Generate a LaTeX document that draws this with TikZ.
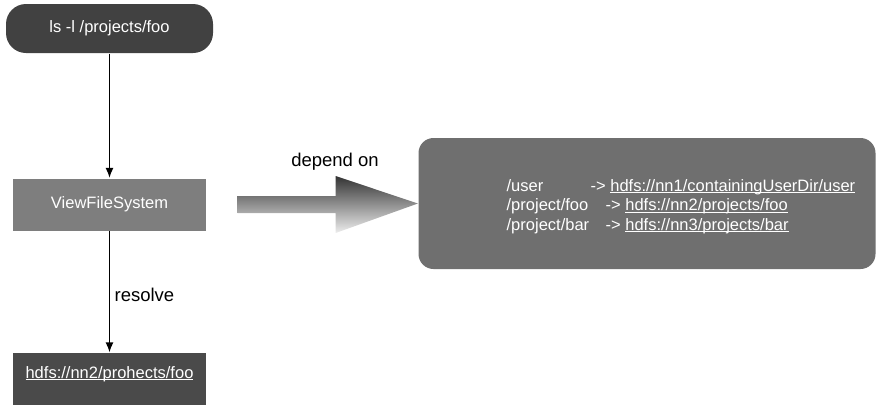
\documentclass[tikz,border=0pt]{standalone}
\usepackage{fontspec}
\setmainfont{Liberation Sans}
\usetikzlibrary{arrows.meta,calc}

\definecolor{boxdark}{HTML}{414141}
\definecolor{boxmid}{HTML}{7E7E7E}
\definecolor{boxgrey}{HTML}{6F6F6F}
\newcommand\lnk[1]{\underline{\smash{#1}}}

\begin{document}
\begin{tikzpicture}[x=1pt,y=-1pt,line width=1.3pt,
  every node/.style={inner sep=0pt},
  boxfont/.style={font=\fontsize{16.5}{20}\selectfont},
  cmd/.style={boxfont,fill=boxdark,text=white,rounded corners=20pt,minimum width=207pt,minimum height=49pt},
  sysbox/.style={boxfont,fill=boxmid,text=white,minimum width=193pt,minimum height=52pt},
  pathbox/.style={boxfont,fill=boxdark!95!white,text=white,minimum width=193pt,minimum height=52pt},
  mountbox/.style={fill=boxgrey,rounded corners=15pt,minimum width=457pt,minimum height=131pt},
  maptext/.style={boxfont,text=white,anchor=base west},
  lbl/.style={font=\fontsize{18.5}{22}\selectfont},
  flow/.style={-{Latex[length=10pt,width=8pt]}}]
\useasboundingbox (0,0) rectangle (882,413);

\node[cmd] (ls) at (109.5,28.5) {ls -l /projects/foo};
\node[sysbox] (vfs) at (109.5,204.5) {ViewFileSystem};
\node[pathbox] (dst) at (109.5,379) {\lnk{hdfs://nn2/prohects/foo}};
\node[mountbox] (mount) at (647,203.5) {};

\draw[flow] (ls) -- (vfs);
\draw[flow] (vfs) -- (dst);
\node[lbl,anchor=west] (res) at (114,295) {resolve};

% mount table
\node[maptext] (src1) at (506,191) {/user};
\node[maptext] (map1) at (590,191) {-> \lnk{hdfs://nn1/containingUserDir/user}};
\node[maptext] (src2) at (506,210.5) {/project/foo};
\node[maptext] (map2) at (605,210.5) {-> \lnk{hdfs://nn2/projects/foo}};
\node[maptext] (src3) at (506,230) {/project/bar};
\node[maptext] (map3) at (605,230) {-> \lnk{hdfs://nn3/projects/bar}};

% big arrow vfs -> mount
\coordinate (tail) at ($(vfs.east)+(31,0)$);
\shade[top color=black!80,bottom color=black!7]
  ($(tail)+(0,-8.5)$) -- ($(tail)+(98,-8.5)$) -- ($(tail)+(98,-28.5)$)
  -- (mount.west) -- ($(tail)+(98,28.5)$) -- ($(tail)+(98,8.5)$)
  -- ($(tail)+(0,8.5)$) -- cycle;
\node[lbl] (dep) at (335,162) {depend on};
\end{tikzpicture}
\end{document}
